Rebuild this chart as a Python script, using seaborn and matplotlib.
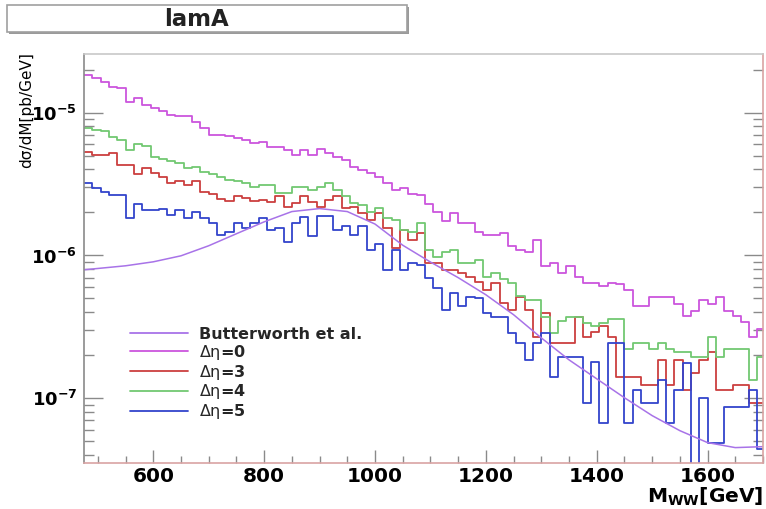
import numpy as np
import pandas as pd
import matplotlib
matplotlib.use("Agg")
import matplotlib.pyplot as plt
from matplotlib.patches import Rectangle
from matplotlib.lines import Line2D
from matplotlib.ticker import LogLocator, MultipleLocator, NullFormatter, FuncFormatter
import seaborn as sns

# ---------------- data (values in units of 1e-7 pb/GeV) ----------------
UNIT = 1e-7
bin_edges = [float(e) for e in np.arange(475, 1706, 15)]   # 82 bins of 15 GeV
bin_centers = np.array(bin_edges[:-1]) + 7.5

deta0 = [184, 174, 165, 152, 148, 119, 126, 113, 107, 102,
         96, 95, 94, 86, 78, 70, 70, 69, 66, 64,
         61, 62.7, 57.8, 57.8, 55, 50.6, 55, 50.6, 56, 52,
         49, 46.7, 41.9, 39.7, 38, 35.7, 32, 28.8, 29.5, 27,
         26.5, 23, 20.3, 17.3, 19.8, 16.9, 16.9, 14.7, 14.0, 14.0,
         14.4, 11.6, 11, 10.5, 12.9, 8.4, 8.9, 7.5, 8.4, 7.1,
         6.45, 6.45, 6.1, 6.45, 6.3, 5.75, 4.4, 4.4, 5.1, 5.1,
         5.1, 4.6, 3.75, 4.1, 4.9, 4.6, 5.1, 4.1, 3.75, 3.4,
         2.7, 3.05]

deta3 = [53, 50.6, 50.6, 52, 43, 43, 37, 41, 37.5, 35.7,
         32.1, 33, 31.2, 33, 28, 27, 25, 24, 25.9, 25.3,
         24, 24.5, 23.8, 25.9, 22, 23.2, 25.9, 23.8, 22, 24.5,
         25.9, 21.5, 22, 19.9, 17.8, 19.9, 15.6, 11.3, 15.1, 12.9,
         14.4, 8.9, 8.85, 7.9, 7.9, 7.5, 7.1, 6.5, 5.75, 6.4,
         4.65, 4.17, 5.16, 4.17, 2.7, 3.95, 2.44, 2.44, 2.44, 3.74,
         2.7, 2.9, 3.2, 2.7, 1.41, 1.41, 1.41, 1.25, 1.25, 1.85,
         1.25, 1.85, 1.15, 1.5, 1.85, 2.1, 1.15, 1.15, 1.25, 1.25,
         0.93, 0.93]

deta4 = [78, 76, 74, 68, 64, 55, 60, 58, 49, 47,
         45.5, 44.3, 40.8, 41.9, 38.6, 37, 35.7, 33.8, 33, 32.1,
         30.4, 31, 31.2, 27.3, 27.3, 30.4, 30.4, 28.8, 30.4, 32.1,
         28.8, 25.9, 23.2, 22.4, 20.3, 21.5, 18.4, 17.8, 15.1, 14.5,
         17, 11, 9.8, 10.5, 11, 8.85, 8.85, 9.3, 7.1, 7.5,
         6.8, 6.4, 5.2, 4.9, 4.9, 3.7, 2.86, 3.5, 3.74, 3.74,
         3.37, 3.2, 3.37, 3.6, 3.6, 2.2, 2.45, 2.45, 2.2, 2.45,
         2.2, 2.1, 2.1, 1.95, 1.95, 2.7, 1.95, 2.2, 2.2, 2.2,
         1.35, 1.95]

deta5 = [32, 29.6, 28, 26.6, 26.6, 18.3, 23, 20.9, 20.9, 21,
         19.3, 20.9, 18.3, 20.3, 18.3, 17, 14, 14.7, 16.9, 15.5,
         16.9, 18.3, 15, 15.6, 12.5, 17, 18.5, 13.6, 19, 18.8,
         15.1, 16, 14, 16, 11, 12, 7.9, 11, 7.9, 8.9,
         8.6, 7, 5.9, 4.17, 5.46, 4.4, 5.16, 5.0, 3.95, 3.74,
         3.74, 2.86, 2.44, 1.87, 2.44, 2.86, 1.42, 1.95, 1.95, 1.95,
         0.93, 1.8, 0.67, 2.45, 2.45, 0.67, 1.15, 0.93, 0.93, 1.35,
         0.67, 1.15, 1.77, 0, 1.0, 0.49, 0.49, 0.87, 0.87, 0.87,
         1.15, 0.44]

bw_mass = [475, 550, 600, 650, 700, 750, 800, 850, 900, 950, 1000, 1050,
           1100, 1150, 1200, 1250, 1300, 1350, 1400, 1450, 1500, 1550,
           1600, 1650, 1700]
bw_vals = [7.94, 8.47, 9.03, 9.95, 11.7, 14.2, 17.2, 20.3, 21.3, 20.3, 16.6, 11.8,
           9.0, 7.0, 5.31, 3.85, 2.65, 1.86, 1.37, 1.01, 0.757, 0.594,
           0.49, 0.452, 0.459]

labels = ["Butterworth et al.", r"$\mathrm{\Delta\eta}$=0", r"$\mathrm{\Delta\eta}$=3",
          r"$\mathrm{\Delta\eta}$=4", r"$\mathrm{\Delta\eta}$=5"]
colors = ["#a873e8", "#cc55dd", "#cc3f3f", "#72c872", "#3344cc"]

# ---------------- figure ----------------
sns.set_theme(style="white")
plt.rcParams["font.family"] = ["DejaVu Sans"]
plt.rcParams["mathtext.fontset"] = "dejavusans"

W, H = 766, 509
fig = plt.figure(figsize=(W / 100, H / 100), dpi=100)
fig.patch.set_facecolor("white")
ax = fig.add_axes([84 / W, 1 - 463.3 / H, (763 - 84) / W, (463.3 - 54) / H])
ax.set_facecolor("white")
ax.set_yscale("log")

series = [deta0, deta3, deta4, deta5]
for vals, col in zip(series, colors[1:]):
    df = pd.DataFrame({"mass": bin_centers, "xsec": np.array(vals) * UNIT})
    sns.histplot(data=df, x="mass", weights="xsec", bins=bin_edges,
                 element="step", fill=False, color=col, linewidth=1.3, ax=ax)

bw_df = pd.DataFrame({"mass": bw_mass, "xsec": np.array(bw_vals) * UNIT})
sns.lineplot(data=bw_df, x="mass", y="xsec", color=colors[0], linewidth=1.1, ax=ax)

ax.set_xlim(475, 1700)
ax.set_ylim(3.51e-8, 2.573e-5)
ax.set_xlabel("")
ax.set_ylabel("")

# ticks
ax.xaxis.set_major_locator(MultipleLocator(200))
ax.xaxis.set_minor_locator(MultipleLocator(50))
ax.yaxis.set_major_locator(LogLocator(base=10, numticks=10))
ax.yaxis.set_minor_locator(LogLocator(base=10, subs=np.arange(2, 10), numticks=20))
ax.yaxis.set_minor_formatter(NullFormatter())
ax.yaxis.set_major_formatter(FuncFormatter(lambda v, p: r"$\mathbf{10^{%d}}$" % int(round(np.log10(v)))))

ax.tick_params(axis="both", which="both", direction="in", color="#8a8a8a", labelcolor="black")
ax.tick_params(axis="y", which="major", length=13.5, width=1.0, left=True, right=True, pad=5)
ax.tick_params(axis="y", which="minor", length=7.0, width=1.0, left=True, right=True)
ax.tick_params(axis="x", which="major", length=9.4, width=1.0, bottom=True, top=False, pad=3)
ax.tick_params(axis="x", which="minor", length=5.0, width=1.0, bottom=True, top=False)
for lab in ax.get_xticklabels():
    lab.set_fontweight("bold")
    lab.set_fontsize(14.5)
for lab in ax.get_yticklabels():
    lab.set_fontsize(13)

ax.spines["left"].set_color("#8a8a8a")
ax.spines["top"].set_color("#c8c8c8")
ax.spines["right"].set_color("#d9a3a3")
ax.spines["bottom"].set_color("#d9a3a3")
for s in ax.spines.values():
    s.set_linewidth(1.2)

# axis titles
fig.text(27 / W, 1 - 52 / H, "dσ/dM[pb/GeV]", rotation=90, ha="center", va="top",
         fontsize=11, color="black")
fig.text(763 / W, 1 - 503 / H, r"$\mathbf{M_{WW}[GeV]}$", ha="right", va="baseline",
         fontsize=14.5, color="black")

# title box
fig.patches.append(Rectangle((9 / W, 1 - 34 / H), 400 / W, 27 / H, transform=fig.transFigure,
                             facecolor="#9a9a9a", edgecolor="none", zorder=1))
fig.patches.append(Rectangle((7 / W, 1 - 32 / H), 400 / W, 27 / H, transform=fig.transFigure,
                             facecolor="white", edgecolor="#a0a0a0", linewidth=1.2, zorder=2))
fig.text(196 / W, 1 - 19.5 / H, "lamA", ha="center", va="center", fontsize=16.5,
         fontweight="bold", color="#222222", zorder=3)

# legend
handles = [Line2D([], [], color=c, linewidth=1.3) for c in colors]
leg = ax.legend(handles, labels, loc="upper left", bbox_to_anchor=(130 / W, 1 - 327 / H),
                bbox_transform=fig.transFigure, frameon=False, borderpad=0, borderaxespad=0,
                handlelength=3.6, handletextpad=0.7, labelspacing=0.05,
                prop={"family": "DejaVu Sans", "weight": "bold", "size": 11.5})

fig.savefig("out.png", dpi=100, facecolor="white")
